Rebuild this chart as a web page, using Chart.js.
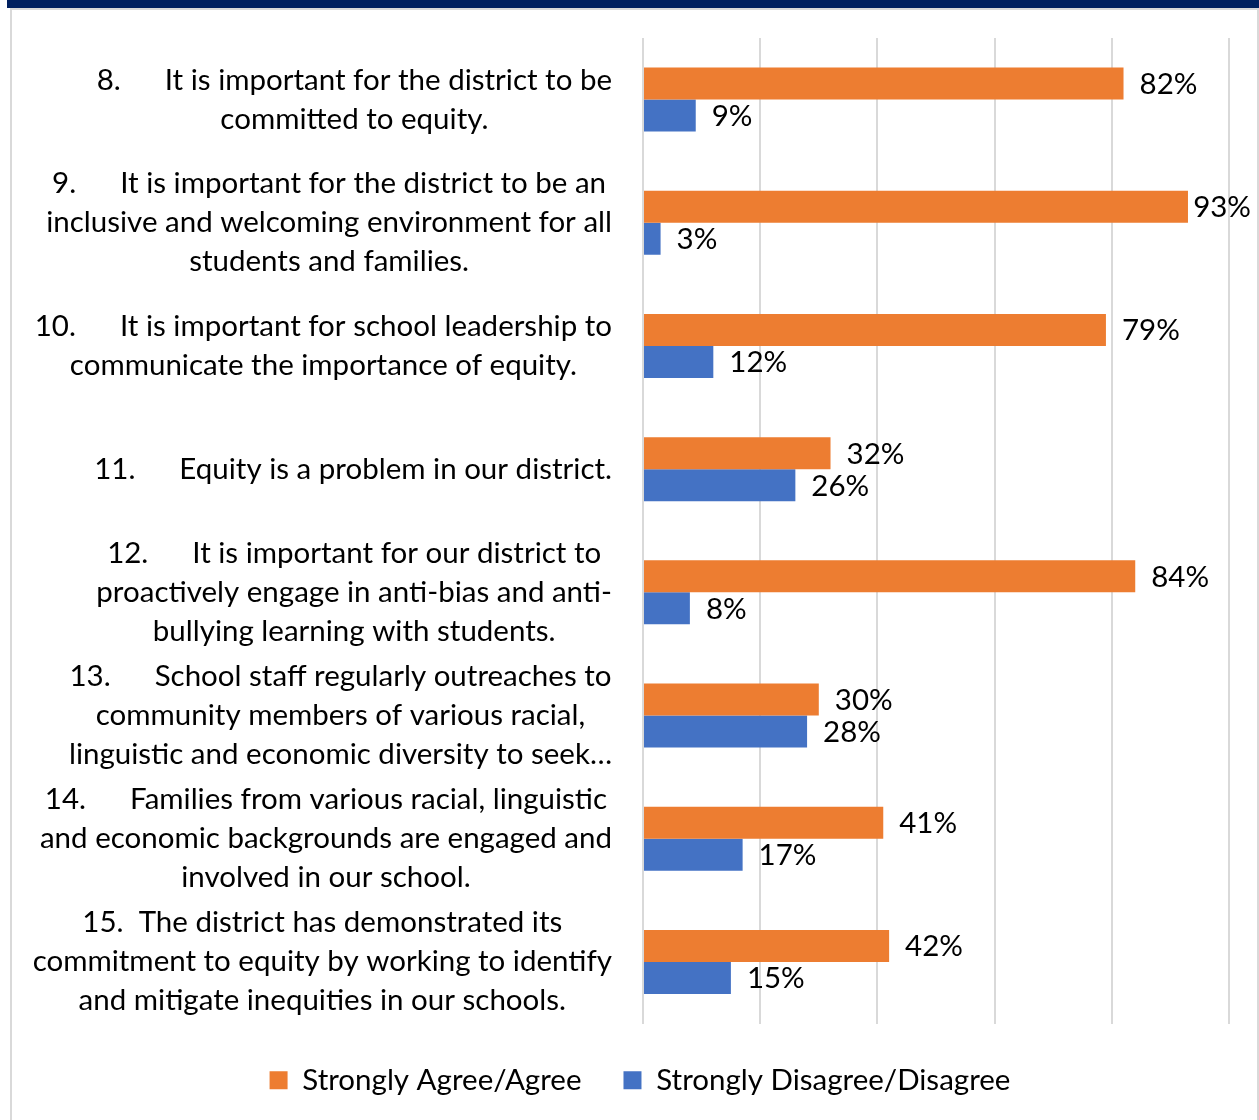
<!DOCTYPE html>
<html>
<head>
<meta charset="utf-8">
<script src="https://cdn.jsdelivr.net/npm/chart.js@4.4.1/dist/chart.umd.min.js"></script>
<style>
  html, body { margin: 0; padding: 0; background: #fff; }
  #wrap { position: relative; width: 1259px; height: 1120px; overflow: hidden; }
  #band { position: absolute; left: 7px; top: 0; width: 1252px; height: 8px; background: #002060; }
  #frame { position: absolute; left: 10px; top: 8px; width: 1245px; height: 1120px;
           border-left: 2px solid #d9d9d9; border-top: 2px solid #d9d9d9; border-right: 2px solid #d9d9d9; }
  #chartBox { position: absolute; left: 0; top: 0; width: 1259px; height: 1120px; }
</style>
</head>
<body>
<div id="wrap">
  <div id="band"></div>
  <div id="frame"></div>
  <div id="chartBox"><canvas id="barChart"></canvas></div>
</div>
<script>
// category labels (each one is a list of lines, "\t" = the tab after the number)
const categories = [
    ['8.\tIt is important for the district to be', 'committed to equity.'],
    ['9.\tIt is important for the district to be an', 'inclusive and welcoming environment for all', 'students and families.'],
    ['10.\tIt is important for school leadership to', 'communicate the importance of equity.'],
    ['11.\tEquity is a problem in our district.'],
    ['12.\tIt is important for our district to', 'proactively engage in anti-bias and anti-', 'bullying learning with students.'],
    ['13.\tSchool staff regularly outreaches to', 'community members of various racial,', 'linguistic and economic diversity to seek\u2026'],
    ['14.\tFamilies from various racial, linguistic', 'and economic backgrounds are engaged and', 'involved in our school.'],
    ['15.  The district has demonstrated its', 'commitment to equity by working to identify', 'and mitigate inequities in our schools.']
];
const seriesNames = ['Strongly Agree/Agree', 'Strongly Disagree/Disagree'];
const agreeValues = [82, 93, 79, 32, 84, 30, 41, 42];
const disagreeValues = [9, 3, 12, 26, 8, 28, 17, 15];

const FONT = 'Lato';
const FSIZE = 29.5;
const TAB_GAP = 44;

// draws the % value to the right of each bar (pulled in if it would run off the edge)
const valueLabels = {
    id: 'valueLabels',
    afterDatasetsDraw(chart) {
        const ctx = chart.ctx;
        ctx.save();
        ctx.font = FSIZE + 'px ' + FONT;
        ctx.fillStyle = '#000';
        ctx.textAlign = 'left';
        ctx.textBaseline = 'middle';
        chart.data.datasets.forEach((ds, di) => {
            chart.getDatasetMeta(di).data.forEach((bar, i) => {
                const txt = ds.data[i] + '%';
                const w = ctx.measureText(txt).width;
                const x = Math.min(bar.x + 16, chart.width - w - 8);
                ctx.fillText(txt, x, bar.y + 1);
            });
        });
        ctx.restore();
    }
};

// multi-line category labels, centred line by line, block right-aligned to the axis
const categoryLabels = {
    id: 'categoryLabels',
    afterDraw(chart) {
        const ctx = chart.ctx;
        const yScale = chart.scales.y;
        const right = chart.chartArea.left - 31;
        const lineH = 39;
        ctx.save();
        ctx.font = FSIZE + 'px ' + FONT;
        ctx.fillStyle = '#000';
        ctx.textBaseline = 'middle';
        ctx.textAlign = 'left';
        const lineWidth = (line) => {
            if (line.includes('\t')) {
                const parts = line.split('\t');
                return ctx.measureText(parts[0]).width + TAB_GAP + ctx.measureText(parts[1]).width;
            }
            return ctx.measureText(line).width;
        };
        categories.forEach((lines, i) => {
            const yc = yScale.getPixelForValue(i);
            const maxW = Math.max(...lines.map(lineWidth));
            const cx = right - maxW / 2;
            let y = yc - (lines.length - 1) * lineH / 2;
            lines.forEach(line => {
                const w = lineWidth(line);
                const x0 = cx - w / 2;
                if (line.includes('\t')) {
                    const parts = line.split('\t');
                    ctx.fillText(parts[0], x0, y);
                    ctx.fillText(parts[1], x0 + ctx.measureText(parts[0]).width + TAB_GAP, y);
                } else {
                    ctx.fillText(line, x0, y);
                }
                y += lineH;
            });
        });
        ctx.restore();
    }
};

const ctxBar = document.getElementById('barChart').getContext('2d');
const barChart = new Chart(ctxBar, {
    type: 'bar',
    data: {
        labels: categories,
        datasets: [{
            label: seriesNames[0],
            data: agreeValues,
            backgroundColor: '#ED7D31',
            borderWidth: 0,
            categoryPercentage: 0.52,
            barPercentage: 1
        }, {
            label: seriesNames[1],
            data: disagreeValues,
            backgroundColor: '#4472C4',
            borderWidth: 0,
            categoryPercentage: 0.52,
            barPercentage: 1
        }]
    },
    options: {
        indexAxis: 'y',
        responsive: true,
        maintainAspectRatio: false,
        animation: false,
        layout: {
            padding: { top: 38, left: 51, right: 30, bottom: 15 }
        },
        plugins: {
            legend: {
                display: true,
                position: 'bottom',
                labels: {
                    font: { family: FONT, size: FSIZE },
                    color: '#000',
                    boxWidth: 18,
                    boxHeight: 18,
                    padding: 42
                }
            },
            tooltip: { enabled: false }
        },
        scales: {
            x: {
                min: 0,
                max: 100,
                ticks: { display: false, stepSize: 20 },
                grid: { color: '#d9d9d9', lineWidth: 2, drawTicks: false },
                border: { display: false }
            },
            y: {
                ticks: { callback: () => '' },
                grid: { display: false },
                border: { display: false },
                afterFit: (scale) => { scale.width = 592; }
            }
        }
    },
    plugins: [valueLabels, categoryLabels]
});
</script>
</body>
</html>
